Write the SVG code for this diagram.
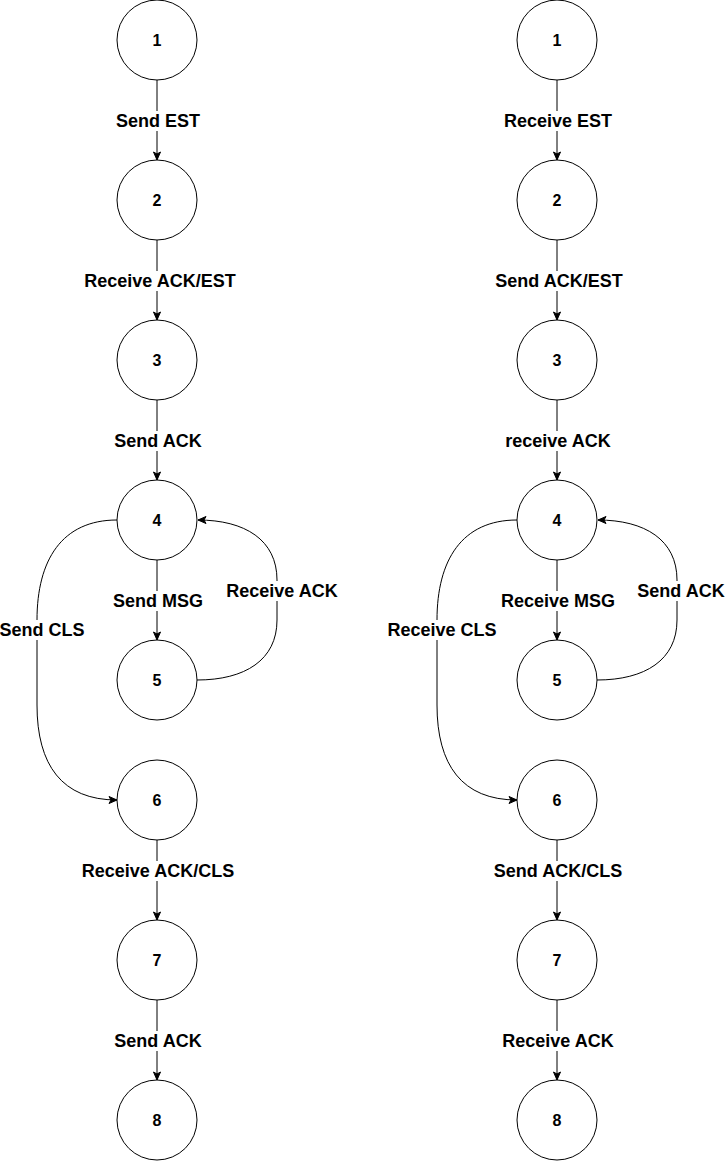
<svg xmlns="http://www.w3.org/2000/svg" width="725" height="1162" viewBox="0 0 725 1162">
<style>
.node circle{fill:#fff;stroke:#000;stroke-width:1}
.node text{font-family:"Liberation Sans",Arial,sans-serif;font-weight:bold;font-size:16px;text-anchor:middle;dominant-baseline:central}
.edge{fill:none;stroke:#000;stroke-width:1;marker-end:url(#arr)}
.lbl rect{fill:#fff}
.lbl text{font-family:"Liberation Sans",Arial,sans-serif;font-weight:bold;font-size:18px;text-anchor:middle;dominant-baseline:central}
</style>
<defs>
<marker id="arr" markerUnits="userSpaceOnUse" markerWidth="10" markerHeight="10" viewBox="0 0 10 10" refX="9" refY="5" orient="auto">
<path d="M1,1.5 L9,5 L1,8.5 L3,5 z" fill="#000" stroke="#000" stroke-width="1"/>
</marker>
</defs>
<rect width="725" height="1162" fill="#fff"/>
<g id="connectors">
<path class="edge" d="M157,80 L157,160"/>
<path class="edge" d="M157,240 L157,320"/>
<path class="edge" d="M157,400 L157,480"/>
<path class="edge" d="M157,560 L157,640"/>
<path class="edge" d="M157,840 L157,920"/>
<path class="edge" d="M157,1000 L157,1080"/>
<path class="edge" d="M117,520 C62,520 37,560 37,620 L37,705 C37,765 62,800 117,800"/>
<path class="edge" d="M197,680 C245,680 277,660 277,620 L277,580 C277,540 245,520 198,520"/>
<path class="edge" d="M557,80 L557,160"/>
<path class="edge" d="M557,240 L557,320"/>
<path class="edge" d="M557,400 L557,480"/>
<path class="edge" d="M557,560 L557,640"/>
<path class="edge" d="M557,840 L557,920"/>
<path class="edge" d="M557,1000 L557,1080"/>
<path class="edge" d="M517,520 C462,520 437,560 437,620 L437,705 C437,765 462,800 517,800"/>
<path class="edge" d="M597,680 C645,680 677,660 677,620 L677,580 C677,540 645,520 598,520"/>
<g class="lbl">
<rect x="114" y="111" width="86" height="20"/><text x="158" y="121">Send EST</text>
<rect x="81" y="271" width="156" height="20"/><text x="160" y="281">Receive ACK/EST</text>
<rect x="113" y="431" width="90" height="20"/><text x="158" y="441">Send ACK</text>
<rect x="112" y="591" width="92" height="20"/><text x="158" y="601">Send MSG</text>
<rect x="0" y="620" width="86" height="20"/><text x="42" y="630">Send CLS</text>
<rect x="224" y="581" width="116" height="20"/><text x="282" y="591">Receive ACK</text>
<rect x="79" y="861" width="157" height="20"/><text x="158" y="871">Receive ACK/CLS</text>
<rect x="113" y="1031" width="90" height="20"/><text x="158" y="1041">Send ACK</text>
<rect x="503" y="111" width="110" height="20"/><text x="558" y="121">Receive EST</text>
<rect x="494" y="271" width="130" height="20"/><text x="559" y="281">Send ACK/EST</text>
<rect x="504" y="431" width="108" height="20"/><text x="558" y="441">receive ACK</text>
<rect x="500" y="591" width="116" height="20"/><text x="558" y="601">Receive MSG</text>
<rect x="386" y="620" width="112" height="20"/><text x="442" y="630">Receive CLS</text>
<rect x="636" y="581" width="89" height="20"/><text x="681" y="591">Send ACK</text>
<rect x="492" y="861" width="132" height="20"/><text x="558" y="871">Send ACK/CLS</text>
<rect x="501" y="1031" width="114" height="20"/><text x="558" y="1041">Receive ACK</text>
</g>
</g>
<g id="L1" class="node"><circle cx="157" cy="40" r="40"/><text x="157" y="40">1</text></g>
<g id="L2" class="node"><circle cx="157" cy="200" r="40"/><text x="157" y="200">2</text></g>
<g id="L3" class="node"><circle cx="157" cy="360" r="40"/><text x="157" y="360">3</text></g>
<g id="L4" class="node"><circle cx="157" cy="520" r="40"/><text x="157" y="520">4</text></g>
<g id="L5" class="node"><circle cx="157" cy="680" r="40"/><text x="157" y="680">5</text></g>
<g id="L6" class="node"><circle cx="157" cy="800" r="40"/><text x="157" y="800">6</text></g>
<g id="L7" class="node"><circle cx="157" cy="960" r="40"/><text x="157" y="960">7</text></g>
<g id="L8" class="node"><circle cx="157" cy="1120" r="40"/><text x="157" y="1120">8</text></g>
<g id="R1" class="node"><circle cx="557" cy="40" r="40"/><text x="557" y="40">1</text></g>
<g id="R2" class="node"><circle cx="557" cy="200" r="40"/><text x="557" y="200">2</text></g>
<g id="R3" class="node"><circle cx="557" cy="360" r="40"/><text x="557" y="360">3</text></g>
<g id="R4" class="node"><circle cx="557" cy="520" r="40"/><text x="557" y="520">4</text></g>
<g id="R5" class="node"><circle cx="557" cy="680" r="40"/><text x="557" y="680">5</text></g>
<g id="R6" class="node"><circle cx="557" cy="800" r="40"/><text x="557" y="800">6</text></g>
<g id="R7" class="node"><circle cx="557" cy="960" r="40"/><text x="557" y="960">7</text></g>
<g id="R8" class="node"><circle cx="557" cy="1120" r="40"/><text x="557" y="1120">8</text></g>
</svg>
